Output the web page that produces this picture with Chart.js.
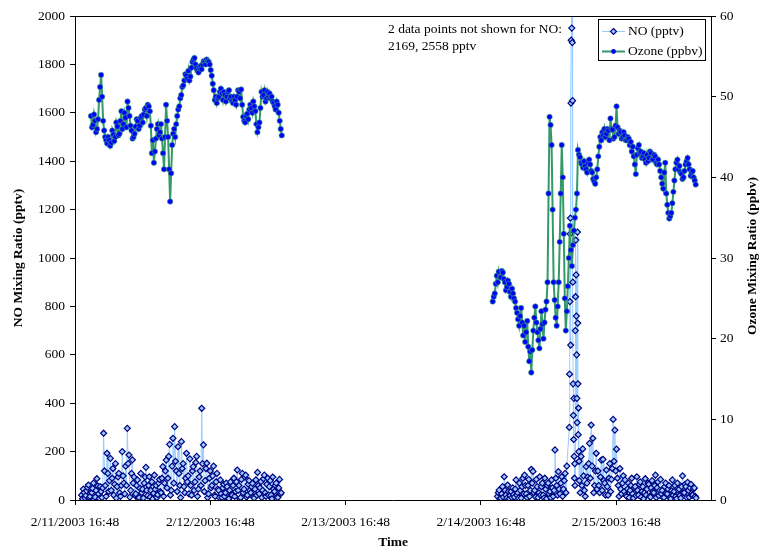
<!DOCTYPE html>
<html>
<head>
<meta charset="utf-8">
<title>NO and Ozone Mixing Ratios</title>
<script src="https://cdn.jsdelivr.net/npm/chart.js@4.4.0/dist/chart.umd.min.js"></script>
<style>
  html, body { margin: 0; padding: 0; background: #fff; }
  #chart { display: block; }
</style>
</head>
<body>
<canvas id="chart" width="760" height="552"></canvas>
<script>
// Time values are February 2003 day numbers (day + fraction of a day),
// so 11.7 is 2/11/2003 16:48.
const timeTicks = [11.7, 12.7, 13.7, 14.7, 15.7];
const timeLabels = ['2/11/2003 16:48', '2/12/2003 16:48', '2/13/2003 16:48', '2/14/2003 16:48', '2/15/2003 16:48'];

// Ozone (ppbv), one value every 0.0075 day
const o3Step = 0.0075;
const o3Start1 = 11.818;
const o3Run1 = [
  47.6, 46.2, 46.5, 47.8, 47.0, 45.6, 46.0, 47.2, 49.6, 51.2,
  52.7, 50.0, 47.0, 45.8, 45.0, 44.6, 44.2, 45.0, 44.6, 43.9,
  44.3, 45.8, 45.3, 44.5, 45.0, 46.8, 46.3, 45.2, 45.4, 47.0,
  48.2, 46.0, 46.6, 48.0, 47.4, 46.2, 49.4, 48.6, 47.6, 46.4,
  45.8, 44.8, 45.0, 45.4, 46.3, 47.2, 47.0, 46.0, 46.4, 47.4,
  47.6, 46.8, 47.8, 48.4, 48.6, 47.6, 49.0, 48.8, 48.2, 46.4,
  43.0, 44.6, 41.8, 43.2, 44.8, 46.0, 46.6, 45.2, 45.6, 46.6,
  44.8, 43.0, 41.0, 45.0, 49.0, 47.0, 45.0, 41.0, 37.0, 40.5,
  44.0, 45.4, 46.0, 45.0, 46.6, 47.6, 48.4, 48.8, 49.8, 50.2,
  51.2, 51.4, 52.0, 52.8, 52.6, 52.2, 53.2, 52.0, 52.5, 53.6,
  54.3, 54.6, 54.8, 54.0, 53.5, 53.2, 53.0, 53.6, 53.8, 53.4,
  54.0, 54.4, 54.3, 54.0, 54.6, 54.4, 54.3, 54.0, 53.3, 52.6,
  51.6, 50.8, 49.6, 50.0, 49.2, 49.8, 50.0, 50.6, 51.0, 50.4,
  49.6, 50.6, 50.2, 49.4, 50.0, 50.6, 50.8, 49.8, 50.0, 49.4,
  49.2, 50.0, 49.6, 49.0, 50.0, 50.8, 50.6, 49.8, 50.9, 49.0,
  47.5, 47.0, 46.8, 47.6, 47.9, 47.2, 48.4, 49.0, 48.6, 48.0,
  49.4, 48.8, 48.2, 46.6, 45.6, 46.2, 46.8, 48.6, 50.6, 50.0,
  50.2, 50.8, 49.4, 49.8, 50.6, 50.0, 50.4, 49.8, 50.0, 49.4,
  49.2, 48.8, 48.4, 49.4, 49.0, 48.0, 47.0, 46.0, 45.2
];
const o3Start2 = 14.787;
const o3Run2 = [
  24.6, 25.2, 25.6, 26.8, 27.8, 27.0, 28.3, 27.6, 27.6, 28.4,
  28.2, 27.4, 27.0, 26.0, 26.4, 27.2, 26.8, 25.8, 25.2, 26.2,
  25.6, 25.0, 24.6, 23.8, 23.2, 22.4, 21.6, 22.8, 23.8, 22.0,
  20.4, 21.6, 19.6, 20.8, 22.2, 19.0, 17.2, 18.4, 15.8, 18.6,
  21.0, 22.6, 24.0, 22.0, 20.8, 19.8, 18.8, 21.2, 23.4, 21.8,
  20.0, 22.0, 23.6, 24.6, 27.0, 38.0, 47.5, 46.5, 44.0, 36.0,
  27.0, 24.8, 22.6, 21.6, 24.0, 27.0, 32.0, 38.0, 44.0, 40.0,
  33.0, 25.0, 21.0, 23.4, 26.5, 30.0, 34.0, 31.0, 29.0, 31.6,
  33.4, 35.0, 36.0, 38.0, 43.4, 42.8, 42.5, 41.8, 41.6, 41.2,
  42.0, 41.4, 41.0, 40.6, 41.8, 42.2, 41.6, 40.8, 40.6, 39.8,
  39.5, 39.2, 40.0, 41.0, 42.6, 43.8, 45.0, 44.6, 45.6, 45.2,
  46.0, 45.0, 45.4, 46.0, 45.8, 44.6, 47.3, 46.0, 45.9, 44.8,
  45.0, 46.4, 48.8, 46.2, 45.4, 45.8, 45.6, 44.8, 45.0, 45.6,
  45.2, 44.6, 44.6, 45.0, 44.8, 44.0, 44.4, 43.2, 43.8, 42.6,
  41.6, 40.4, 42.8, 43.6, 44.0, 43.0, 43.2, 42.4, 42.6, 43.0,
  42.2, 41.8, 42.8, 42.0, 42.4, 43.2, 43.0, 42.2, 42.2, 42.8,
  42.6, 41.8, 41.6, 42.2, 41.6, 40.8, 40.0, 39.2, 38.6, 40.6,
  41.8, 38.0, 36.6, 35.6, 34.9, 35.2, 35.6, 36.8, 38.2, 39.6,
  41.0, 41.8, 42.2, 41.0, 41.4, 40.6, 40.4, 39.8, 40.0, 40.8,
  41.6, 42.0, 42.4, 41.6, 41.0, 40.2, 40.6, 40.8, 40.0, 39.6,
  39.1
];

// NO (pptv), one value every 0.00625 day, plus the short plume on 2/15
const noStep = 0.00625;
const noStart1 = 11.749;
const noRun1 = [
  20, 5, 45, 30, 8, 18, 38, 52, 62, 10, 15, 33,
  30, 48, 70, 3, 12, 40, 88, 58, 25, 6, 55, 35, 10, 50,
  276, 120,
  60, 15, 193, 110, 35, 80, 172, 40, 90, 130,
  20, 65, 150, 8, 55, 95, 110, 30, 15, 60,
  200, 100,
  70, 25, 140, 60,
  296, 150,
  186, 12, 40, 110, 166, 70, 95, 20,
  25, 60, 83, 5, 10, 48, 110, 30, 45, 8, 70, 95,
  135, 40,
  18, 60, 96, 12, 40, 75, 5, 28, 103, 45, 60, 10, 22, 70, 85, 35,
  30, 90, 138, 15, 70, 120, 165, 50,
  90, 180, 230, 20, 40, 140, 255, 70, 303, 160, 120, 35,
  220, 110, 60, 10, 241, 130, 150, 55, 30, 90, 193, 75,
  100, 25, 170, 60, 20, 120, 138, 40, 75, 155, 180, 15, 45, 95, 120, 60,
  379, 150,
  228, 35, 80, 130, 152, 10, 25, 90, 120, 50, 60, 100, 140, 20, 15, 75, 110, 45,
  40, 10, 83, 25, 10, 50, 65, 15, 30, 70, 55, 3, 5, 40, 75, 22, 20, 60,
  90, 15, 35, 75, 124, 40, 60, 5, 10, 85, 110, 30, 45, 95, 103, 12, 20, 65, 80, 40,
  30, 55, 69, 12, 8, 45, 83, 20, 114, 60, 25, 50,
  76, 10, 40, 88, 103, 30, 15, 65, 90, 20, 55, 80, 20, 5, 95, 45, 35, 60, 70, 12, 10, 50, 85, 25, 30
];
const noStart2 = 14.822;
const noRun2 = [
  15, 30, 41, 5, 8, 25, 55, 12, 96, 40, 20, 8, 62, 35, 5, 18, 35, 10, 50, 22,
  12, 45, 83, 20, 30, 8, 70, 40, 8, 55, 90, 25, 103, 60, 25, 10, 60, 85, 15, 40, 127, 70, 118, 30,
  40, 12, 85, 55, 10, 30, 96, 20, 55, 70, 20, 8, 90, 45, 5, 60, 70, 25, 35, 10, 83, 50, 15, 40,
  207, 90,
  60, 20, 117, 45, 25, 70, 96, 15, 45, 80, 110, 30, 140
];
const plumeStep = 0.002;
const plumeStart = 15.353;
const noPlume = [
  300, 520, 820, 1100, 1165, 640, 1640, 1900, 2169, 1950,
  2558, 1890, 1650, 900, 480, 350, 250, 420, 180, 90,
  150, 60, 700, 840, 1074, 930, 760, 600, 420, 320,
  1107, 731, 480, 270, 380, 200, 160
];
const noStart3 = 15.427;
const noRun3 = [
  80, 30, 180, 60, 211, 100, 40, 15, 138, 70, 95, 150,
  234, 90, 310, 140, 255, 30, 60, 120, 193, 45, 120, 60,
  30, 95, 165, 40, 168, 80, 70, 20, 124, 55, 20, 90, 150, 35, 85, 130,
  333, 160, 289, 120, 210, 90,
  60, 15, 130, 45, 25, 70, 100, 35, 83, 20,
  15, 45, 70, 10, 40, 60, 90, 25, 8, 50, 55, 18, 96, 40, 20, 65, 75, 12, 35, 55,
  5, 30, 88, 20, 45, 70, 65, 15, 12, 50, 80, 35, 30, 60, 103, 10, 50, 75, 18, 40,
  85, 25, 40, 10, 10, 55, 70, 30,
  25, 45, 60, 10, 5, 38, 83, 20, 35, 60, 15, 5, 70, 40, 45, 18, 8, 55, 100, 30,
  30, 65, 55, 10, 73, 40, 12, 50, 65, 20, 20, 45, 50, 15, 8
];

// turn a regularly sampled run into {x, y} points
function run(start, step, values) {
  return values.map((v, i) => ({ x: start + i * step, y: v }));
}
const gap = { x: 14.0, y: null };

const noPoints = [].concat(
  run(noStart1, noStep, noRun1), [gap],
  run(noStart2, noStep, noRun2),
  run(plumeStart, plumeStep, noPlume),
  run(noStart3, noStep, noRun3)
);
const o3Points = [].concat(
  run(o3Start1, o3Step, o3Run1), [gap],
  run(o3Start2, o3Step, o3Run2)
);

const SERIF = "'Liberation Serif', 'Times New Roman', serif";
const NO_LINE = '#99ccff', NO_EDGE = '#000080';
const O3_LINE = '#339966', O3_DOT = '#0000ff';

Chart.defaults.font.family = SERIF;
Chart.defaults.color = '#000';

// legend box, note text, top frame and right-hand title
const extras = {
  id: 'extras',
  afterDraw(chart) {
    const { ctx, chartArea: a } = chart;
    ctx.save();
    ctx.strokeStyle = '#000';
    ctx.lineWidth = 1;
    ctx.beginPath();
    ctx.moveTo(a.left, a.top + 0.5);
    ctx.lineTo(a.right, a.top + 0.5);
    ctx.stroke();

    ctx.fillStyle = '#000';
    ctx.font = '13.5px ' + SERIF;
    ctx.textBaseline = 'middle';
    ctx.textAlign = 'left';
    ctx.fillText('2 data points not shown for NO:', 388, 29);
    ctx.fillText('2169, 2558 pptv', 388, 46);

    // legend
    ctx.fillStyle = '#fff';
    ctx.fillRect(598, 19, 108, 42);
    ctx.strokeRect(598.5, 19.5, 107, 41);
    ctx.strokeStyle = NO_LINE;
    ctx.beginPath(); ctx.moveTo(602, 31.5); ctx.lineTo(625, 31.5); ctx.stroke();
    ctx.fillStyle = NO_LINE; ctx.strokeStyle = NO_EDGE; ctx.lineWidth = 1.2;
    ctx.beginPath();
    ctx.moveTo(613.5, 28.5); ctx.lineTo(616.5, 31.5); ctx.lineTo(613.5, 34.5); ctx.lineTo(610.5, 31.5);
    ctx.closePath(); ctx.fill(); ctx.stroke();

    ctx.strokeStyle = O3_LINE; ctx.lineWidth = 2;
    ctx.beginPath(); ctx.moveTo(602, 51.5); ctx.lineTo(625, 51.5); ctx.stroke();
    ctx.fillStyle = O3_DOT;
    ctx.beginPath(); ctx.arc(613.5, 51.5, 2.4, 0, Math.PI * 2); ctx.fill();

    ctx.fillStyle = '#000';
    ctx.fillText('NO (pptv)', 628, 31.5);
    ctx.fillText('Ozone (ppbv)', 628, 51.5);

    // right axis title, reading bottom to top
    ctx.font = 'bold 13.5px ' + SERIF;
    ctx.textAlign = 'center';
    ctx.translate(753, 256);
    ctx.rotate(-Math.PI / 2);
    ctx.fillText('Ozone Mixing Ratio (ppbv)', 0, 0);
    ctx.restore();
  }
};

const tickFont = { family: SERIF, size: 13.5 };
const axisGrid = { display: true, drawOnChartArea: false, drawTicks: true, tickLength: 5, color: '#000' };

new Chart(document.getElementById('chart'), {
  type: 'line',
  data: {
    datasets: [
      {
        label: 'NO (pptv)',
        data: noPoints,
        yAxisID: 'y',
        order: 1,
        borderColor: NO_LINE,
        borderWidth: 1,
        pointStyle: 'rectRot',
        pointRadius: 3,
        pointBorderWidth: 1.2,
        pointBorderColor: NO_EDGE,
        pointBackgroundColor: NO_LINE,
        spanGaps: false,
        tension: 0
      },
      {
        label: 'Ozone (ppbv)',
        data: o3Points,
        yAxisID: 'y2',
        order: 0,
        borderColor: O3_LINE,
        borderWidth: 2,
        pointStyle: 'circle',
        pointRadius: 2.7,
        pointBorderWidth: 1,
        pointBorderColor: 'rgba(60,170,110,0.6)',
        pointBackgroundColor: O3_DOT,
        spanGaps: false,
        tension: 0
      }
    ]
  },
  options: {
    responsive: false,
    animation: false,
    devicePixelRatio: 1,
    layout: { padding: { top: 16, left: 0, right: 0, bottom: 0 } },
    plugins: { legend: { display: false }, tooltip: { enabled: false } },
    scales: {
      x: {
        type: 'linear',
        min: 11.7,
        max: 16.4,
        afterBuildTicks: (s) => { s.ticks = timeTicks.map(v => ({ value: v })); },
        afterFit: (s) => { s.height = 52; },
        grid: axisGrid,
        border: { display: true, color: '#000', width: 1 },
        ticks: {
          font: tickFont, color: '#000', maxRotation: 0, autoSkip: false, padding: 9,
          callback: (v, i) => timeLabels[i]
        },
        title: { display: true, text: 'Time', font: { family: SERIF, size: 13.5, weight: 'bold' }, padding: { top: 0, bottom: 1 } }
      },
      y: {
        position: 'left',
        min: 0,
        max: 2000,
        afterFit: (s) => { s.width = 75; },
        grid: axisGrid,
        border: { display: true, color: '#000', width: 1 },
        ticks: { font: tickFont, color: '#000', stepSize: 200, padding: 5, callback: v => String(v) },
        title: { display: true, text: 'NO Mixing Ratio (pptv)', font: { family: SERIF, size: 13.5, weight: 'bold' }, padding: { top: 10, bottom: 0 } }
      },
      y2: {
        position: 'right',
        min: 0,
        max: 60,
        afterFit: (s) => { s.width = 49; },
        grid: axisGrid,
        border: { display: true, color: '#000', width: 1 },
        ticks: { font: tickFont, color: '#000', stepSize: 10, padding: 4, callback: v => String(v) }
      }
    }
  },
  plugins: [extras]
});
</script>
</body>
</html>
